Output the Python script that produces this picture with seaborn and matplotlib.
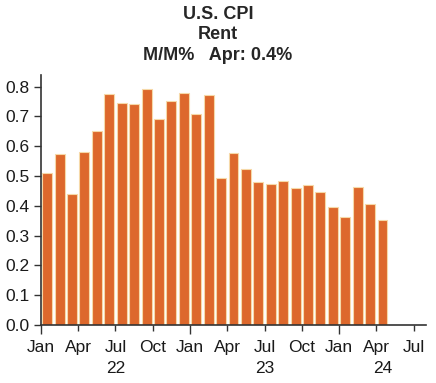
import pandas as pd
import matplotlib
matplotlib.use("Agg")
import matplotlib.pyplot as plt
import matplotlib.transforms as mtransforms
import seaborn as sns

# Monthly change in CPI rent
MONTHS = [
    "2022-01", "2022-02", "2022-03", "2022-04", "2022-05", "2022-06",
    "2022-07", "2022-08", "2022-09", "2022-10", "2022-11", "2022-12",
    "2023-01", "2023-02", "2023-03", "2023-04", "2023-05", "2023-06",
    "2023-07", "2023-08", "2023-09", "2023-10", "2023-11", "2023-12",
    "2024-01", "2024-02", "2024-03", "2024-04",
]
RENT_MM = [
    0.51, 0.575, 0.44, 0.58, 0.65, 0.775,
    0.746, 0.741, 0.793, 0.691, 0.75, 0.779,
    0.707, 0.77, 0.492, 0.576, 0.523, 0.481,
    0.474, 0.484, 0.459, 0.471, 0.445, 0.395,
    0.364, 0.463, 0.406, 0.352,
]
TICK_LABELS = ["Jan", "Apr", "Jul", "Oct"] * 3
YEAR_LABELS = ["22", "23", "24"]

BAR_COLOR = "#DD682C"
EDGE_COLOR = "#F6D9A8"


def main():
    sns.set_style("white")
    plt.rcParams["font.family"] = ["Liberation Sans", "DejaVu Sans"]

    df = pd.DataFrame({"month": pd.PeriodIndex(MONTHS, freq="M"), "value": RENT_MM})
    start = df["month"].iloc[0]
    df["pos"] = [(m - start).n + 0.5 for m in df["month"]]

    fig = plt.figure(figsize=(4.36, 3.83), dpi=100)
    ax = fig.add_axes([0.094, 0.1514, 0.883, 0.653])
    sns.barplot(
        data=df, x="pos", y="value", native_scale=True, width=0.8,
        color=BAR_COLOR, saturation=1, edgecolor=EDGE_COLOR, linewidth=0.8, ax=ax,
    )

    ax.set_xlim(0, 31)
    ax.set_ylim(0, 0.839)
    ax.set_xlabel("")
    ax.set_ylabel("")
    ax.set_yticks([i / 10 for i in range(9)])
    ax.set_yticklabels([f"{i / 10:.1f}" for i in range(9)], fontsize=12.5, color="#1a1a1a")

    xt = list(range(0, 31, 3))[: len(TICK_LABELS)]
    ax.set_xticks(xt)
    ax.set_xticklabels(TICK_LABELS[: len(xt)], fontsize=12.5, color="#1a1a1a")
    ax.tick_params(axis="both", direction="out", width=1, color="#333333",
                   bottom=True, left=True)
    ax.tick_params(axis="y", length=5, pad=3)
    ax.tick_params(axis="x", length=6.5, pad=4)
    for pos, tick in zip(xt, ax.xaxis.get_major_ticks()):
        tick.tick1line.set_markersize(6.5 if pos % 12 == 0 else 4)

    for side in ["top", "right"]:
        ax.spines[side].set_visible(False)
    for side in ["left", "bottom"]:
        ax.spines[side].set_color("#333333")
        ax.spines[side].set_linewidth(1.2)

    trans = mtransforms.blended_transform_factory(ax.transData, ax.transAxes)
    for x, lab in zip([6, 18, 27.5], YEAR_LABELS):
        ax.text(x, -0.172, lab, transform=trans, ha="center", va="center",
                fontsize=12.5, color="#1a1a1a")

    fig.text(0.5, 0.961, "U.S. CPI", ha="center", va="center", fontsize=13, fontweight="bold")
    fig.text(0.5, 0.910, "Rent", ha="center", va="center", fontsize=13, fontweight="bold")
    fig.text(0.5, 0.856, "M/M%   Apr: 0.4%", ha="center", va="center", fontsize=13, fontweight="bold")

    fig.savefig("out.png", dpi=100)


if __name__ == "__main__":
    main()
